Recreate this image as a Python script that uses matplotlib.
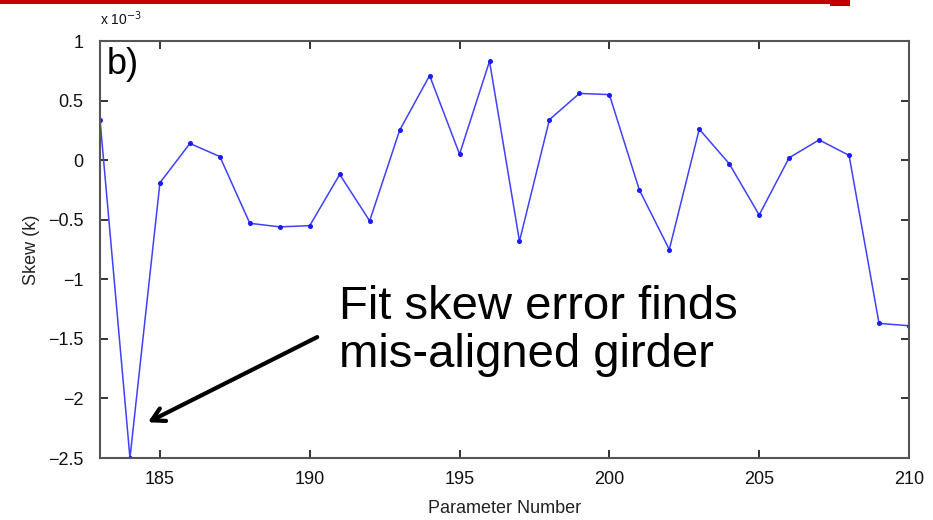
import matplotlib
matplotlib.use("Agg")
import matplotlib.pyplot as plt
from matplotlib.patches import Rectangle

# Fitted skew per parameter (units of 1e-3)
params = list(range(183, 211))
skew = [0.34, -2.50, -0.19, 0.14, 0.03, -0.53, -0.56, -0.55, -0.12, -0.51,
        0.25, 0.71, 0.05, 0.83, -0.68, 0.34, 0.56, 0.55, -0.25, -0.75,
        0.26, -0.03, -0.46, 0.02, 0.17, 0.04, -1.37, -1.39]

xticks = [185, 190, 195, 200, 205, 210]
yticks = [1, 0.5, 0, -0.5, -1, -1.5, -2, -2.5]
ytick_labels = ["1", "0.5", "0", "\u22120.5", "\u22121", "\u22121.5", "\u22122", "\u22122.5"]

plt.rcParams["font.family"] = ["Liberation Sans", "DejaVu Sans"]

fig = plt.figure(figsize=(9.33, 5.2), dpi=100)
fig.patch.set_facecolor("white")

# slide header rule
fig.add_artist(Rectangle((0, 1 - 4 / 520), 845 / 933, 4 / 520,
                         transform=fig.transFigure, color="#c00000", lw=0))
fig.add_artist(Rectangle((830 / 933, 1 - 6 / 520), 20 / 933, 6 / 520,
                         transform=fig.transFigure, color="#c00000", lw=0))

ax = fig.add_axes([100 / 933, 62 / 520, 809 / 933, 417 / 520])
ax.plot(params, skew, color="#4040ff", lw=1.1, marker="o", ms=2.6,
        mec="#1a1aff", mfc="#1a1aff")

ax.set_xlim(183, 210)
ax.set_ylim(-2.5, 1)
ax.set_xticks(xticks)
ax.set_yticks(yticks)
ax.set_yticklabels(ytick_labels)
ax.tick_params(direction="in", length=6, width=1.2, top=True, right=True,
               labelsize=13, colors="#111111")
ax.tick_params(axis="x", pad=9)
ax.tick_params(axis="y", pad=12)
for sp in ax.spines.values():
    sp.set_color("#555555")
    sp.set_linewidth(1.5)

ax.set_xlabel("Parameter Number", fontsize=13, color="#222222", labelpad=9)
ax.set_ylabel("Skew (k)", fontsize=13, color="#222222", labelpad=6)

fig.text(100 / 933, 1 - 25 / 520, r"x 10$^{-3}$", fontsize=10, color="#111111")
ax.text(0.008, 0.985, "b)", transform=ax.transAxes, fontsize=26, va="top", ha="left")

ax.annotate("", xy=(184.6, -2.2), xytext=(190.25, -1.485),
            arrowprops=dict(arrowstyle="->,head_length=0.9,head_width=0.5",
                            lw=3, color="black", shrinkA=0, shrinkB=0))
ax.text(190.98, -1.737, "Fit skew error finds\nmis-aligned girder",
        fontsize=34, ha="left", va="baseline", linespacing=1.12, color="black")

fig.savefig("out.png", dpi=100, facecolor="white")
